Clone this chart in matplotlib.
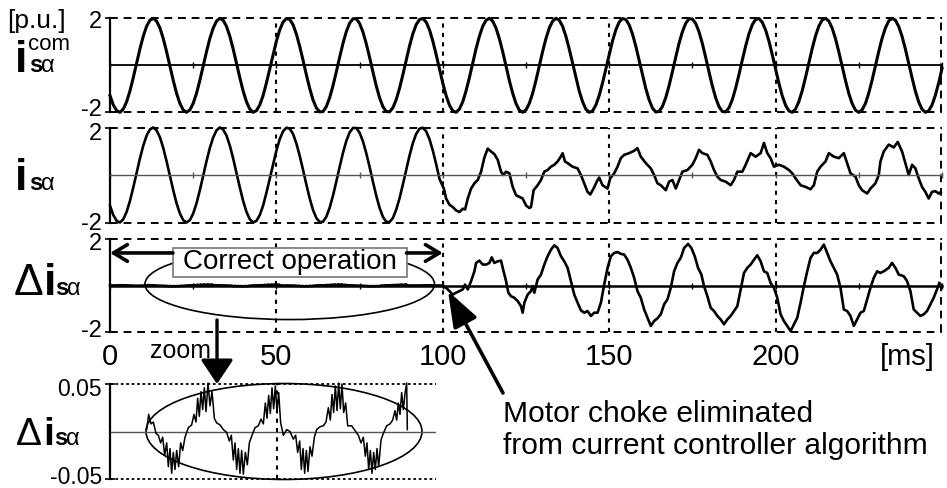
import matplotlib
matplotlib.use("Agg")
import matplotlib.pyplot as plt
from matplotlib.patches import Ellipse, Rectangle

plt.rcParams['font.family'] = ['Liberation Sans', 'DejaVu Sans']

# commanded current i_sa^com [p.u.], read every 1 ms from 0 to 250 ms
t_com = list(range(0, 251))
i_com = [
    -1.29, -1.69, -1.93, -2.00, -1.86, -1.55, -1.09, -0.52, 0.09, 0.70,
    1.24, 1.66, 1.92, 2.00, 1.88, 1.59, 1.14, 0.58, -0.03, -0.64,
    -1.19, -1.62, -1.90, -2.00, -1.90, -1.62, -1.19, -0.64, -0.03, 0.58,
    1.14, 1.58, 1.88, 2.00, 1.92, 1.66, 1.24, 0.70, 0.09, -0.52,
    -1.09, -1.55, -1.86, -2.00, -1.93, -1.69, -1.29, -0.75, -0.15, 0.46,
    1.03, 1.51, 1.84, 1.99, 1.95, 1.73, 1.33, 0.81, 0.22, -0.40,
    -0.98, -1.47, -1.81, -1.98, -1.97, -1.76, -1.38, -0.87, -0.28, 0.34,
    0.93, 1.43, 1.79, 1.98, 1.98, 1.78, 1.42, 0.92, 0.34, -0.28,
    -0.87, -1.38, -1.76, -1.97, -1.98, -1.81, -1.46, -0.98, -0.40, 0.22,
    0.82, 1.34, 1.73, 1.95, 1.99, 1.84, 1.51, 1.03, 0.46, -0.16,
    -0.76, -1.29, -1.70, -1.94, -2.00, -1.86, -1.55, -1.08, -0.52, 0.10,
    0.71, 1.24, 1.66, 1.92, 2.00, 1.88, 1.58, 1.13, 0.58, -0.04,
    -0.65, -1.19, -1.63, -1.91, -2.00, -1.90, -1.62, -1.19, -0.64, -0.02,
    0.59, 1.14, 1.59, 1.88, 2.00, 1.92, 1.66, 1.23, 0.69, 0.09,
    -0.53, -1.10, -1.55, -1.87, -2.00, -1.94, -1.69, -1.28, -0.75, -0.15,
    0.47, 1.04, 1.51, 1.84, 1.99, 1.95, 1.72, 1.33, 0.81, 0.21,
    -0.41, -0.99, -1.47, -1.82, -1.99, -1.96, -1.75, -1.37, -0.86, -0.27,
    0.35, 0.94, 1.43, 1.79, 1.98, 1.97, 1.78, 1.42, 0.92, 0.33,
    -0.29, -0.88, -1.39, -1.76, -1.97, -1.98, -1.81, -1.46, -0.97, -0.39,
    0.23, 0.82, 1.34, 1.73, 1.95, 1.99, 1.83, 1.50, 1.03, 0.45,
    -0.16, -0.77, -1.30, -1.70, -1.94, -2.00, -1.86, -1.54, -1.08, -0.51,
    0.10, 0.71, 1.25, 1.67, 1.93, 2.00, 1.88, 1.58, 1.13, 0.57,
    -0.04, -0.65, -1.20, -1.63, -1.91, -2.00, -1.90, -1.62, -1.18, -0.63,
    -0.02, 0.59, 1.15, 1.59, 1.89, 2.00, 1.92, 1.65, 1.23, 0.69,
    0.08, -0.53, -1.10, -1.56, -1.87, -2.00, -1.94, -1.69, -1.28, -0.75,
    -0.14,
]

# measured current i_sa after the motor choke is removed (t >= 100 ms)
t_meas_after = [
    100.3, 101.0, 102.0, 103.0, 104.0, 105.0, 106.0, 106.7, 107.5, 108.5,
    109.5, 110.5, 111.5, 112.5, 113.5, 114.5, 115.5, 116.5, 117.5, 118.2,
    119.0, 120.0, 121.0, 122.0, 123.0, 124.0, 125.0, 126.0, 126.5, 127.3,
    128.5, 129.5, 130.5, 131.5, 132.5, 133.5, 134.5, 135.5, 136.0, 136.7,
    137.5, 139.0, 140.5, 141.5, 142.5, 143.5, 144.3, 145.3, 146.5, 147.0,
    148.0, 149.5, 150.3, 151.5, 152.5, 153.5, 154.5, 156.0, 157.5, 158.5,
    159.5, 161.0, 162.5, 163.5, 164.5, 165.5, 167.0, 168.0, 169.0, 170.0,
    171.0, 172.0, 173.5, 175.0, 176.0, 177.0, 178.0, 179.5, 180.5, 181.5,
    182.5, 183.5, 185.0, 186.5, 187.5, 188.5, 190.0, 191.0, 192.5, 194.0,
    195.5, 196.5, 197.5, 198.5, 199.5, 201.0, 202.5, 204.0, 205.0, 206.0,
    207.5, 209.0, 210.5, 211.5, 212.5, 213.5, 215.0, 216.0, 217.5, 219.0,
    220.5, 221.5, 222.5, 224.0, 225.0, 226.0, 227.5, 228.5, 230.0, 231.0,
    231.5, 232.5, 234.0, 235.5, 236.7, 238.0, 239.0, 240.0, 241.0, 242.0,
    243.0, 244.0, 245.0, 246.0, 247.0, 248.0, 249.0, 249.6,
]
i_meas_after = [
    -0.57, -0.99, -1.25, -1.35, -1.49, -1.56, -1.42, -1.45, -0.99, -0.57,
    -0.35, -0.21, 0.14, 0.74, 1.11, 0.99, 0.88, 0.64, 0.14, 0.00,
    0.14, 0.07, -0.50, -0.85, -0.92, -0.99, -1.28, -1.39, -1.35, -0.64,
    -0.43, -0.21, 0.14, 0.21, 0.35, 0.43, 0.57, 0.78, 0.92, 0.57,
    0.50, 0.35, 0.28, 0.00, -0.35, -0.71, -0.82, -0.57, -0.21, -0.11,
    -0.43, -0.57, -0.14, 0.07, 0.35, 0.71, 0.85, 0.92, 1.02, 1.13,
    0.77, 0.50, 0.28, 0.00, -0.35, -0.43, -0.64, -0.28, -0.21, -0.57,
    -0.21, 0.14, 0.21, 0.43, 0.71, 1.06, 0.92, 0.85, 0.57, 0.21,
    -0.07, -0.21, -0.28, -0.43, -0.21, 0.14, 0.14, 0.43, 0.92, 0.77,
    0.92, 1.35, 0.92, 0.71, 0.35, 0.43, 0.35, 0.21, 0.07, -0.14,
    -0.43, -0.50, -0.60, -0.43, 0.14, 0.35, 0.57, 0.92, 0.77, 0.71,
    0.92, 0.50, 0.07, -0.07, -0.43, -0.64, -0.78, -0.57, -0.35, 0.00,
    0.57, 0.99, 1.28, 1.16, 1.39, 0.99, 0.50, 0.00, 0.43, 0.28,
    -0.14, -0.50, -0.71, -0.99, -0.71, -0.68, -0.78, -0.72,
]

# current error in the zoom window (10..90 ms), [p.u.]
t_zoom = [
    11.0, 11.6, 12.3, 13.0, 13.8, 14.5, 15.2, 15.8, 16.4, 17.0,
    17.5, 18.0, 18.5, 19.0, 19.5, 20.0, 20.6, 21.2, 21.8, 22.5,
    23.5, 24.5, 25.2, 25.8, 26.3, 26.8, 27.3, 27.8, 28.3, 28.8,
    29.4, 30.0, 30.6, 31.3, 32.0, 33.0, 34.0, 35.0, 35.8, 36.4,
    37.0, 37.5, 38.0, 38.5, 39.0, 39.5, 40.0, 40.6, 41.2, 41.8,
    42.5, 43.5, 44.5, 45.3, 46.0, 46.6, 47.1, 47.6, 48.1, 48.6,
    49.1, 49.6, 50.1, 50.6, 51.2, 52.0, 53.0, 54.0, 55.0, 55.7,
    56.3, 56.9, 57.4, 57.9, 58.4, 58.9, 59.4, 60.0, 60.6, 61.3,
    62.0, 63.0, 64.0, 64.8, 65.5, 66.1, 66.6, 67.1, 67.6, 68.1,
    68.6, 69.1, 69.6, 70.1, 70.7, 71.3, 72.5, 73.5, 74.5, 75.3,
    76.0, 76.6, 77.1, 77.6, 78.1, 78.6, 79.1, 79.6, 80.1, 80.6,
    81.3, 82.0, 83.0, 84.0, 84.8, 85.5, 86.0, 86.5, 87.0, 87.5,
    88.0, 88.5, 89.0, 89.2,
]
di_zoom = [
    0.002, 0.018, 0.008, 0.010, -0.002, -0.004, -0.012, -0.006, -0.025, -0.012,
    -0.037, -0.018, -0.044, -0.022, -0.040, -0.020, -0.037, -0.012, -0.020, -0.006,
    0.004, 0.007, 0.018, 0.010, 0.035, 0.016, 0.042, 0.023, 0.046, 0.021,
    0.051, 0.027, 0.042, 0.014, 0.009, 0.007, 0.002, -0.001, -0.010, -0.004,
    -0.030, -0.012, -0.040, -0.018, -0.044, -0.020, -0.045, -0.022, -0.035, -0.012,
    -0.005, 0.004, 0.006, 0.013, 0.008, 0.030, 0.014, 0.038, 0.019, 0.046,
    0.024, 0.048, 0.020, 0.041, 0.009, -0.004, 0.002, 0.000, -0.008, -0.004,
    -0.022, -0.010, -0.040, -0.018, -0.044, -0.020, -0.042, -0.016, -0.026, -0.006,
    0.002, 0.005, 0.006, 0.010, 0.025, 0.012, 0.039, 0.020, 0.048, 0.022,
    0.051, 0.024, 0.050, 0.020, 0.030, 0.006, 0.006, 0.001, -0.004, -0.012,
    -0.006, -0.026, -0.012, -0.040, -0.020, -0.044, -0.022, -0.040, -0.018, -0.037,
    -0.009, -0.002, 0.006, 0.008, 0.012, 0.022, 0.012, 0.030, 0.018, 0.041,
    0.023, 0.040, 0.051, 0.002,
]

# current error delta i_sa after 100 ms
t_err_after = [
    99.5, 101.0, 102.0, 103.0, 104.0, 105.0, 106.0, 106.7, 107.5, 108.5,
    109.5, 110.0, 111.0, 112.0, 113.0, 114.0, 114.7, 115.5, 116.5, 117.5,
    118.0, 119.0, 119.7, 120.5, 121.5, 122.5, 123.5, 124.0, 124.5, 125.5,
    126.5, 127.0, 127.5, 128.5, 129.5, 130.5, 131.5, 132.5, 133.5, 134.5,
    135.5, 136.5, 137.5, 138.5, 139.5, 140.5, 141.5, 142.5, 143.5, 144.5,
    145.5, 146.5, 147.5, 148.5, 149.5, 150.5, 151.5, 152.5, 153.5, 154.5,
    155.5, 156.5, 157.5, 158.5, 159.5, 160.5, 161.5, 162.5, 163.5, 164.5,
    165.5, 166.5, 167.5, 168.5, 169.5, 170.5, 171.5, 172.5, 173.7, 174.7,
    175.7, 176.7, 177.7, 178.5, 179.5, 180.5, 181.5, 182.5, 183.5, 184.5,
    185.5, 186.5, 187.5, 188.5, 189.5, 190.5, 191.5, 192.5, 193.5, 194.5,
    195.5, 196.5, 197.5, 198.5, 199.5, 200.5, 201.5, 202.5, 203.5, 204.5,
    205.5, 206.5, 207.5, 208.5, 209.5, 210.5, 211.5, 212.5, 213.5, 214.5,
    215.5, 216.5, 217.5, 218.5, 219.5, 220.5, 221.5, 222.5, 223.5, 224.5,
    225.5, 226.5, 227.5, 228.5, 229.5, 230.5, 231.5, 232.5, 234.0, 235.0,
    236.0, 237.0, 238.5, 239.5, 240.5, 241.5, 242.5, 243.5, 244.5, 245.5,
    246.5, 247.5, 248.5, 249.2,
]
di_after = [
    0.00, -0.10, -0.24, -0.39, -0.31, -0.24, -0.17, 0.04, -0.17, 0.19,
    0.61, 0.97, 1.07, 0.90, 0.90, 0.97, 1.21, 0.97, 1.04, 1.07,
    0.76, 0.19, -0.31, -0.46, -0.53, -0.67, -0.89, -1.17, -0.74, -0.39,
    -0.24, -0.03, -0.31, 0.26, 0.47, 0.90, 1.26, 1.54, 1.73, 1.61,
    1.26, 1.04, 0.76, 0.19, -0.39, -0.74, -1.07, -1.17, -1.10, -1.31,
    -1.17, -1.17, -0.74, 0.04, 0.75, 1.26, 1.40, 1.44, 1.36, 1.33,
    1.11, 0.76, 0.33, -0.24, -0.53, -1.03, -1.39, -1.74, -1.53, -1.41,
    -1.24, -0.81, -0.60, -0.10, 0.61, 0.97, 1.19, 1.61, 1.79, 1.61,
    1.26, 0.76, 0.47, -0.03, -0.46, -0.96, -1.10, -1.31, -1.46, -1.67,
    -1.46, -1.31, -1.10, -0.89, -0.17, 0.54, 0.76, 0.90, 1.11, 1.30,
    1.04, 0.61, 0.54, 0.11, -0.10, -0.53, -1.24, -1.53, -1.74, -1.96,
    -1.67, -1.39, -0.74, -0.03, 0.61, 1.19, 1.40, 1.40, 1.54, 1.76,
    1.40, 1.04, 0.76, 0.47, -0.10, -1.03, -1.10, -1.31, -1.74, -1.46,
    -1.17, -1.10, -0.60, -0.10, 0.33, 0.61, 0.54, 0.61, 0.76, 0.97,
    0.76, 0.47, 0.40, 0.19, -0.24, -1.03, -1.17, -1.31, -1.24, -1.10,
    -0.81, -0.53, -0.17, 0.11,
]

# measured current = command up to 100 ms, then the distorted waveform
t_meas = t_com[:100] + t_meas_after
i_meas = i_com[:100] + i_meas_after

# error before 100 ms is the small ripple shown in the zoom
t_err = [0.0, 4.0, 8.0] + t_zoom + [92.0, 95.5, 97.5] + t_err_after
di = [0.0, 0.01, -0.01] + di_zoom + [0.0, 0.01, 0.0] + di_after

grid_x = [50, 100, 150, 200]
xtick_pos = [0, 50, 100, 150, 200]
xtick_lab = ['0', '50', '100', '150', '200']
x_end = 249.6

W, H = 947, 488
fig = plt.figure(figsize=(W / 100, H / 100), dpi=100)


def rect(left, top, right, bottom):
    return [left / W, 1 - bottom / H, (right - left) / W, (bottom - top) / H]


def ptext(x, y, s, ha='left', va='baseline', **kw):
    # text placed with pixel coordinates measured from the top-left corner
    fig.text(x / W, 1 - y / H, s, va=va, ha=ha, **kw)


dash = (0, (4, 3))
dot = (0, (2, 2.5))


def main_panel(r, zero_color, zero_lw):
    ax = fig.add_axes(r)
    ax.set_xlim(0, x_end)
    ax.set_ylim(-2, 2)
    ax.patch.set_visible(False)
    for s in ['top', 'right']:
        ax.spines[s].set_visible(False)
    ax.spines['left'].set_linewidth(1.6)
    ax.spines['bottom'].set_position(('data', 0))
    ax.spines['bottom'].set_color(zero_color)
    ax.spines['bottom'].set_linewidth(zero_lw)
    ax.axhline(2, color='black', lw=1.4, ls=dash, clip_on=False)
    ax.axhline(-2, color='black', lw=1.4, ls=dash, clip_on=False)
    ax.axvline(x_end, color='black', lw=1.4, ls=dash, clip_on=False)
    for x in grid_x:
        ax.axvline(x, color='black', lw=1.5, ls=dot, clip_on=False)
    ax.set_xticks(range(0, 251, 25))
    ax.set_xticklabels([])
    ax.tick_params(axis='x', direction='inout', length=5, width=1, color=zero_color)
    ax.set_yticks([-2, 2])
    ax.set_yticklabels([])
    ax.tick_params(axis='y', direction='inout', length=7, width=1.2)
    return ax


ax1 = main_panel(rect(110, 18.3, 942, 112.3), 'black', 1.3)
ax1.plot(t_com, i_com, color='black', lw=2.2, clip_on=False)

ax2 = main_panel(rect(110, 127.5, 942, 222.5), '#555555', 1.0)
ax2.plot(t_meas, i_meas, color='black', lw=1.9, clip_on=False)

ax3 = main_panel(rect(110, 239, 942, 332), 'black', 1.8)
ax3.plot(t_err, di, color='black', lw=1.9, clip_on=False)
for x, lab in zip(xtick_pos, xtick_lab):
    ax3.text(x, -0.355, lab, transform=ax3.get_xaxis_transform(),
             ha='center', va='baseline', fontsize=21)
ax3.text(239.7, -0.355, '[ms]', transform=ax3.get_xaxis_transform(),
         ha='center', va='baseline', fontsize=21)

# y tick labels, placed like in the original
for y, lab in [(21.5, '2'), (110, '-2'), (133.5, '2'), (224, '-2'),
               (244.5, '2'), (331, '-2')]:
    ptext(102, y, lab, ha='right', va='center', fontsize=17)
ptext(102, 389, '0.05', ha='right', va='center', fontsize=16.5)
ptext(102, 477, '-0.05', ha='right', va='center', fontsize=16.5)

# ellipse around the "correct operation" part
ax3.add_patch(Ellipse((54, 0.06), 87, 3.05, fill=False, ec='black', lw=1.2,
                      clip_on=False, zorder=4))
ax3.add_patch(Rectangle((18.9, 0.37), 70.2, 1.24, fc='white', ec='#777777', lw=1.2,
                        clip_on=False, zorder=5))
ax3.text(54, 0.99, 'Correct operation', ha='center', va='center', fontsize=20,
         zorder=6)
for tip, start in [(0, 18.9), (100, 89.1)]:
    ax3.annotate('', xy=(tip, 1.4), xytext=(start, 1.4),
                 arrowprops=dict(arrowstyle='->,head_length=0.5,head_width=0.3',
                                 lw=2.6, color='black', mutation_scale=20,
                                 shrinkA=0, shrinkB=0),
                 annotation_clip=False, zorder=6)

# zoom inset
ax4 = fig.add_axes(rect(110, 384, 436, 479))
ax4.set_xlim(0, 97.8)
ax4.set_ylim(-0.05, 0.05)
ax4.patch.set_visible(False)
for s in ['top', 'right', 'bottom']:
    ax4.spines[s].set_visible(False)
ax4.spines['left'].set_linewidth(1.6)
ax4.set_xticks([])
ax4.set_yticks([-0.05, 0.05])
ax4.set_yticklabels([])
ax4.tick_params(axis='y', direction='inout', length=7, width=1.2)
ax4.axhline(0.05, color='black', lw=1.3, ls=(0, (1.5, 1.5)), clip_on=False)
ax4.axhline(-0.05, color='black', lw=1.3, ls=(0, (1.5, 1.5)), clip_on=False)
ax4.axhline(0, color='#555555', lw=1.0)
ax4.axvline(50, color='black', lw=1.5, ls=dot, clip_on=False)
ax4.add_patch(Ellipse((52.2, 0.0), 82.8, 0.101, fill=False, ec='black', lw=1.2,
                      clip_on=False))
ax4.plot(t_zoom, di_zoom, color='black', lw=1.1, clip_on=False)

# arrows and notes in pixel coordinates
fig.add_artist(plt.Annotation('', xy=(217 / W, 1 - 384 / H), xytext=(217 / W, 1 - 320 / H),
                              xycoords='figure fraction',
                              arrowprops=dict(arrowstyle='-|>,head_length=0.75,head_width=0.5',
                                              lw=2.4, color='black', mutation_scale=20,
                                              shrinkA=0, shrinkB=0)))
fig.add_artist(plt.Annotation('', xy=(448 / W, 1 - 291 / H), xytext=(503 / W, 1 - 393 / H),
                              xycoords='figure fraction',
                              arrowprops=dict(arrowstyle='-|>,head_length=1.1,head_width=0.4',
                                              lw=2.6, color='black', mutation_scale=20,
                                              shrinkA=0, shrinkB=0)))
ptext(150, 358, 'zoom', fontsize=18)
ptext(503, 422, 'Motor choke eliminated', fontsize=21.6)
ptext(503, 454, 'from current controller algorithm', fontsize=21.6)

# axis names
ptext(7, 28, '[p.u.]', fontsize=19)
ptext(28, 50, 'com', fontsize=16)
for y in [72, 190]:
    ptext(15, y, 'i', fontsize=32, fontweight='bold')
    ptext(29, y, 's', fontsize=17, fontweight='bold')
    ptext(41, y, 'α', fontsize=17)
ptext(14, 295, 'Δ', fontsize=32)
ptext(44, 295, 'i', fontsize=32, fontweight='bold')
ptext(55, 295, 's', fontsize=17, fontweight='bold')
ptext(67, 295, 'α', fontsize=17)
ptext(16, 445, 'Δ', fontsize=28)
ptext(43, 445, 'i', fontsize=28, fontweight='bold')
ptext(54, 445, 's', fontsize=17, fontweight='bold')
ptext(66, 445, 'α', fontsize=17)

fig.savefig('out.png', dpi=100)
